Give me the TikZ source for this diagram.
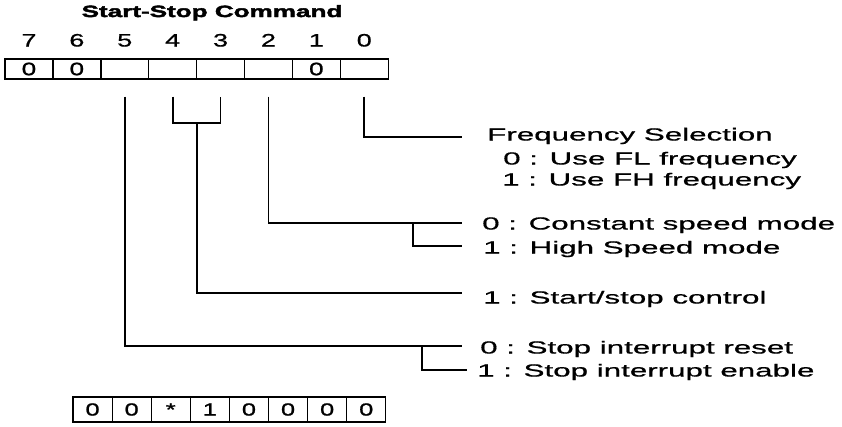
\documentclass[tikz,border=0pt]{standalone}
\usepackage{fontspec}
\setmainfont{Liberation Sans}
\newfontfamily\lblfont[FakeStretch=1.79,FakeBold=0.8]{Liberation Sans}
\newfontfamily\digfont[FakeStretch=1.5,FakeBold=0.8]{Liberation Sans}
\newfontfamily\celfont[FakeStretch=1.45,FakeBold=1.2]{Liberation Sans}
\newfontfamily\ttlfont[FakeStretch=1.6,FakeBold=2.5]{Liberation Sans}
\tikzset{
  cell/.style={draw, line width=1.4pt, minimum width=47.9pt, minimum height=20pt, inner sep=0pt, font=\celfont\fontsize{18}{18}\selectfont},
  cellb/.style={draw, line width=1.1pt, minimum width=39.1pt, minimum height=25pt, inner sep=0pt, font=\celfont\fontsize{17.5}{17.5}\selectfont},
  bitno/.style={anchor=base, inner sep=0pt, font=\digfont\fontsize{18}{18}\selectfont},
  lbl/.style={anchor=base west, inner sep=0pt, font=\lblfont\fontsize{17.5}{17.5}\selectfont},
  conn/.style={line width=1.8pt},
  ttl/.style={anchor=base, inner sep=0pt, font=\ttlfont\bfseries\fontsize{16.3}{16.3}\selectfont}
}
\begin{document}
\begin{tikzpicture}[x=1pt,y=-1pt]
\useasboundingbox (0,0) rectangle (842,426);
\node[ttl] (title) at (212,17) {Start-Stop Command};
% top register
\foreach \i/\b/\v in {0/7/0,1/6/0,2/5/,3/4/,4/3/,5/2/,6/1/0,7/0/} {
  \node[cell] (b\b) at ({5+47.9*(\i+0.5)},69) {\v};
  \node[bitno] (n\b) at ({5+47.9*(\i+0.5)},46.5) {\b};
}
% start points of connectors
\foreach \b in {0,2,3,4,5} {
  \coordinate (s\b) at ([yshift=-17pt]b\b.south);
}
% end points
\coordinate (e0) at (462,137);
\coordinate (e2a) at (462,223);
\coordinate (br2) at (413,223);
\coordinate (e2b) at (462,246);
\coordinate (j43) at (196.6,123);
\coordinate (e43) at (462,293);
\coordinate (e5a) at (462,346);
\coordinate (br5) at (422,346);
\coordinate (e5b) at (467,370);
% connectors
\draw[conn] (s0) |- (e0);
\draw[conn] (s2) |- (e2a);
\draw[conn] (br2) |- (e2b);
\draw[conn] (s4) |- (j43) -| (s3);
\draw[conn] (j43) |- (e43);
\draw[conn] (s5) |- (e5a);
\draw[conn] (br5) |- (e5b);
% labels
\node[lbl] (t0) at (487,140.5) {Frequency Selection};
\node[lbl] (t0a) at (503,164.5) {0 : Use FL frequency};
\node[lbl] (t0b) at (502,185.5) {1 : Use FH frequency};
\node[lbl] (t2a) at (482,229.5) {0 : Constant speed mode};
\node[lbl] (t2b) at (483,253.5) {1 : High Speed mode};
\node[lbl] (t43) at (483,303.5) {1 : Start/stop control};
\node[lbl] (t5a) at (480,353.5) {0 : Stop interrupt reset};
\node[lbl] (t5b) at (477,376.5) {1 : Stop interrupt enable};
% bottom register
\foreach \i/\b/\v in {0/7/0,1/6/0,2/5/*,3/4/1,4/3/0,5/2/0,6/1/0,7/0/0} {
  \node[cellb] (c\b) at ({73+39.1*(\i+0.5)},409.5) {\v};
}
\end{tikzpicture}
\end{document}
